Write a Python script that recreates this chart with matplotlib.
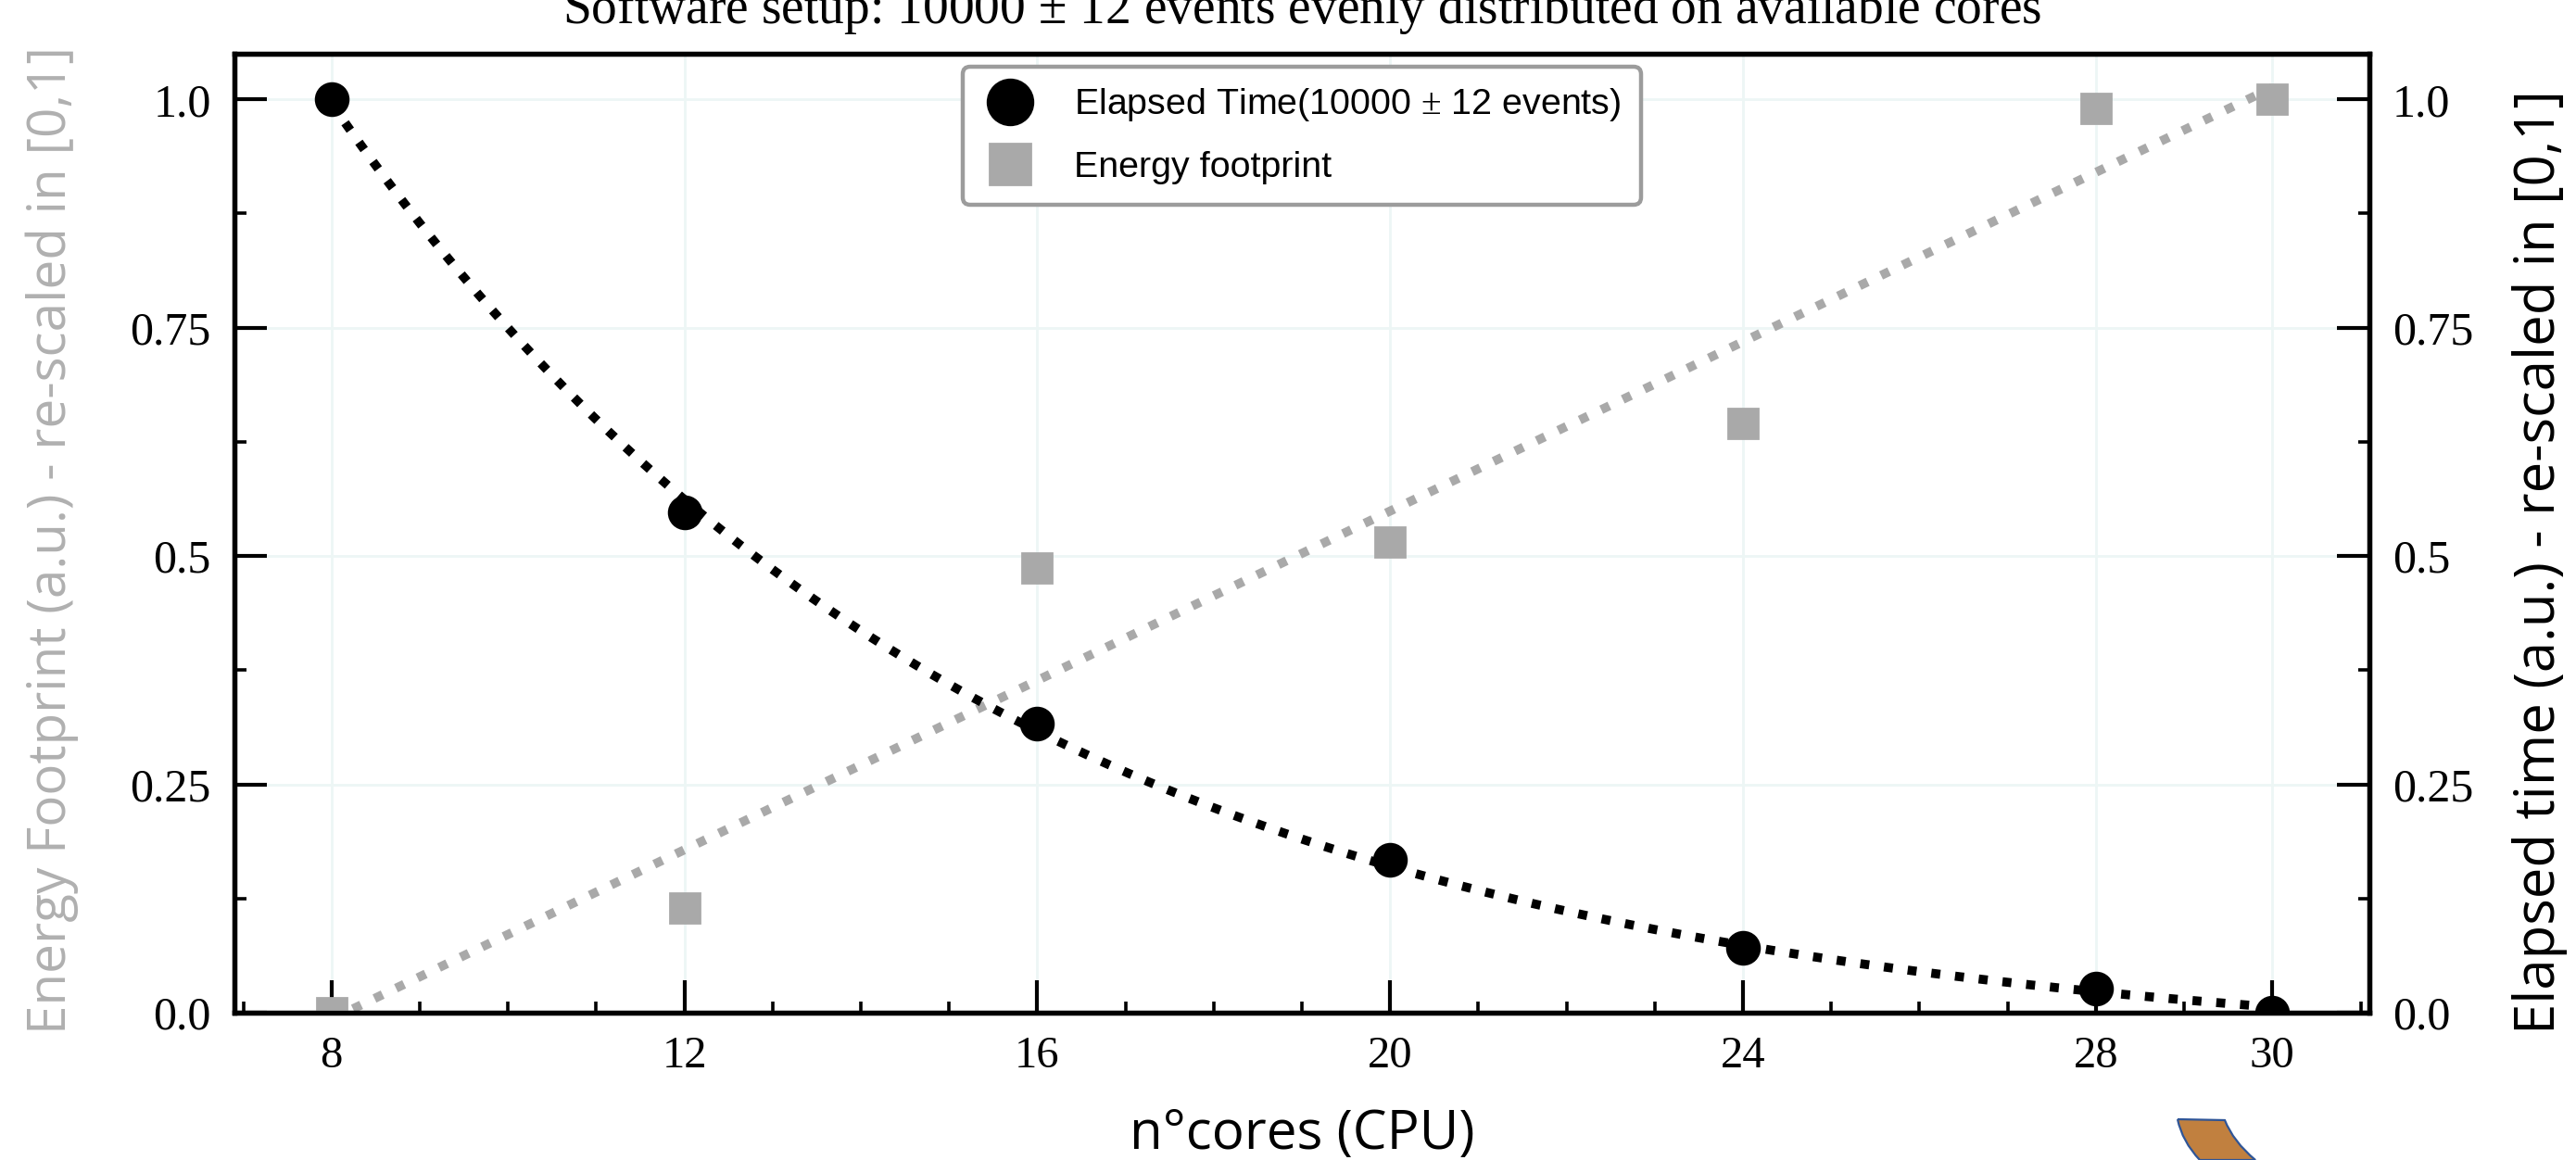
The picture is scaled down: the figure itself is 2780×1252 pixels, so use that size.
import numpy as np
import matplotlib
matplotlib.use("Agg")
import matplotlib.pyplot as plt
from matplotlib.ticker import MultipleLocator, FixedLocator
from matplotlib.path import Path
from matplotlib.patches import PathPatch

# ---------------- data ----------------
cores = [8, 12, 16, 20, 24, 28, 30]
elapsed_time = [1.0, 0.548, 0.317, 0.167, 0.071, 0.026, 0.0]
energy = [0.0, 0.115, 0.487, 0.515, 0.645, 0.99, 1.0]
xtick_values = [8, 12, 16, 20, 24, 28, 30]
ytick_values = [0.0, 0.25, 0.5, 0.75, 1.0]
ytick_labels = ["0.0", "0.25", "0.5", "0.75", "1.0"]

title = "Software setup: 10000 $\\pm$ 12 events evenly distributed on available cores"
xlabel = "n°cores (CPU)"
ylabel_left = "Energy Footprint (a.u.) - re-scaled in [0,1]"
ylabel_right = "Elapsed time (a.u.) - re-scaled in [0,1]"
label_time = "Elapsed Time(10000 $\\pm$ 12 events)"
label_energy = "Energy footprint"

GRAY = "#a9a9a9"
SERIF = "Liberation Serif"
SANS = "Open Sans"

plt.rcParams["mathtext.fontset"] = "custom"
plt.rcParams["mathtext.rm"] = SERIF

# ---------------- fits ----------------
xc = np.array(cores, dtype=float)
yt = np.array(elapsed_time)
ye = np.array(energy)

# linear fit of energy
p_lin = np.polyfit(xc, ye, 1)
# exponential fit of elapsed time  y = a*exp(-b*(x-8)) + c
best = None
for b in np.linspace(0.01, 1.0, 2000):
    A = np.vstack([np.exp(-b * (xc - xc[0])), np.ones_like(xc)]).T
    coef, res, *_ = np.linalg.lstsq(A, yt, rcond=None)
    r = np.sum((A @ coef - yt) ** 2)
    if best is None or r < best[0]:
        best = (r, b, coef)
_, b_fit, (a_fit, c_fit) = best
xx = np.linspace(xc[0], xc[-1], 400)
yy_time = a_fit * np.exp(-b_fit * (xx - xc[0])) + c_fit
yy_energy = np.polyval(p_lin, xx)

# ---------------- figure ----------------
fig = plt.figure(figsize=(13.9, 6.26), dpi=200)
ax = fig.add_axes([0.0910, 0.1270, 0.8288, 0.8267])
ax2 = ax.twinx()

ax.plot(xx, yy_energy, linestyle=":", color=GRAY, lw=3.5, zorder=2)
ax.plot(cores, energy, linestyle="none", marker="s", ms=11.5, color=GRAY,
        label=label_energy, zorder=3, clip_on=True)

ax2.plot(xx, yy_time, linestyle=":", color="black", lw=3.5, zorder=2)
ax2.plot(cores, elapsed_time, linestyle="none", marker="o", ms=12.5,
         color="black", label=label_time, zorder=3)

for a in (ax, ax2):
    a.set_xlim(6.9, 31.1)
    a.set_ylim(0, 1.05)
    a.yaxis.set_major_locator(FixedLocator(ytick_values))
    a.yaxis.set_minor_locator(MultipleLocator(0.125))
    a.set_yticks(ytick_values)
    a.set_yticklabels(ytick_labels, fontfamily=SERIF, fontsize=18)
    a.tick_params(axis="both", which="major", direction="in", length=12.5,
                  width=1.5, pad=9)
    a.tick_params(axis="both", which="minor", direction="in", length=4.5,
                  width=1.3)

ax.set_xticks(xtick_values)
ax.set_xticklabels([str(v) for v in xtick_values], fontfamily=SERIF, fontsize=17.5)
ax.xaxis.set_minor_locator(MultipleLocator(1))
ax.tick_params(axis="x", which="both", top=False, bottom=True)
ax.tick_params(axis="y", which="both", left=True, right=False)
ax2.tick_params(axis="y", which="both", left=False, right=True)

for a in (ax, ax2):
    for s in a.spines.values():
        s.set_linewidth(1.9)

ax.grid(True, which="major", color="#edf6f5", lw=1.0, zorder=0)
ax.set_axisbelow(True)

ax.set_title(title, fontfamily=SERIF, fontsize=20, pad=12)
ax.set_xlabel(xlabel, fontfamily=SANS, fontsize=21, labelpad=12)
ax.set_ylabel(ylabel_left, fontfamily=SANS, fontsize=20.4, color="#b0b0b0")
ax.yaxis.set_label_coords(-0.073, 0.493)
ax2.set_ylabel(ylabel_right, fontfamily=SANS, fontsize=21.5, color="black",
               rotation=90)
ax2.yaxis.set_label_coords(1.067, 0.47)

h2, l2 = ax2.get_legend_handles_labels()
h1, l1 = ax.get_legend_handles_labels()
leg = ax2.legend(h2 + h1, l2 + l1, loc="upper center", markerscale=1.4,
                 prop={"family": "Liberation Sans", "size": 14.2},
                 frameon=True, fancybox=True, framealpha=1.0,
                 borderpad=0.55, labelspacing=0.75, handletextpad=1.0,
                 borderaxespad=0.35, handlelength=1.5)
leg.get_frame().set_edgecolor("#9c9c9c")
leg.get_frame().set_linewidth(1.6)

# decorative brown band at the lower right of the picture
W, H = 2780.0, 1252.0
pts = [(2350, 1208), (2401, 1209), (2410, 1232), (2434, 1252),
       (2374, 1252), (2355, 1232), (2350, 1208)]
verts = [(x / W, 1 - y / H) for x, y in pts]
codes = [Path.MOVETO, Path.LINETO, Path.CURVE3, Path.CURVE3,
         Path.LINETO, Path.CURVE3, Path.CURVE3]
patch = PathPatch(Path(verts, codes), transform=fig.transFigure,
                  facecolor="#c1803f", edgecolor="#2f5597", lw=0.8,
                  clip_on=False)
fig.patches.append(patch)

fig.savefig("out.png", dpi=200)
